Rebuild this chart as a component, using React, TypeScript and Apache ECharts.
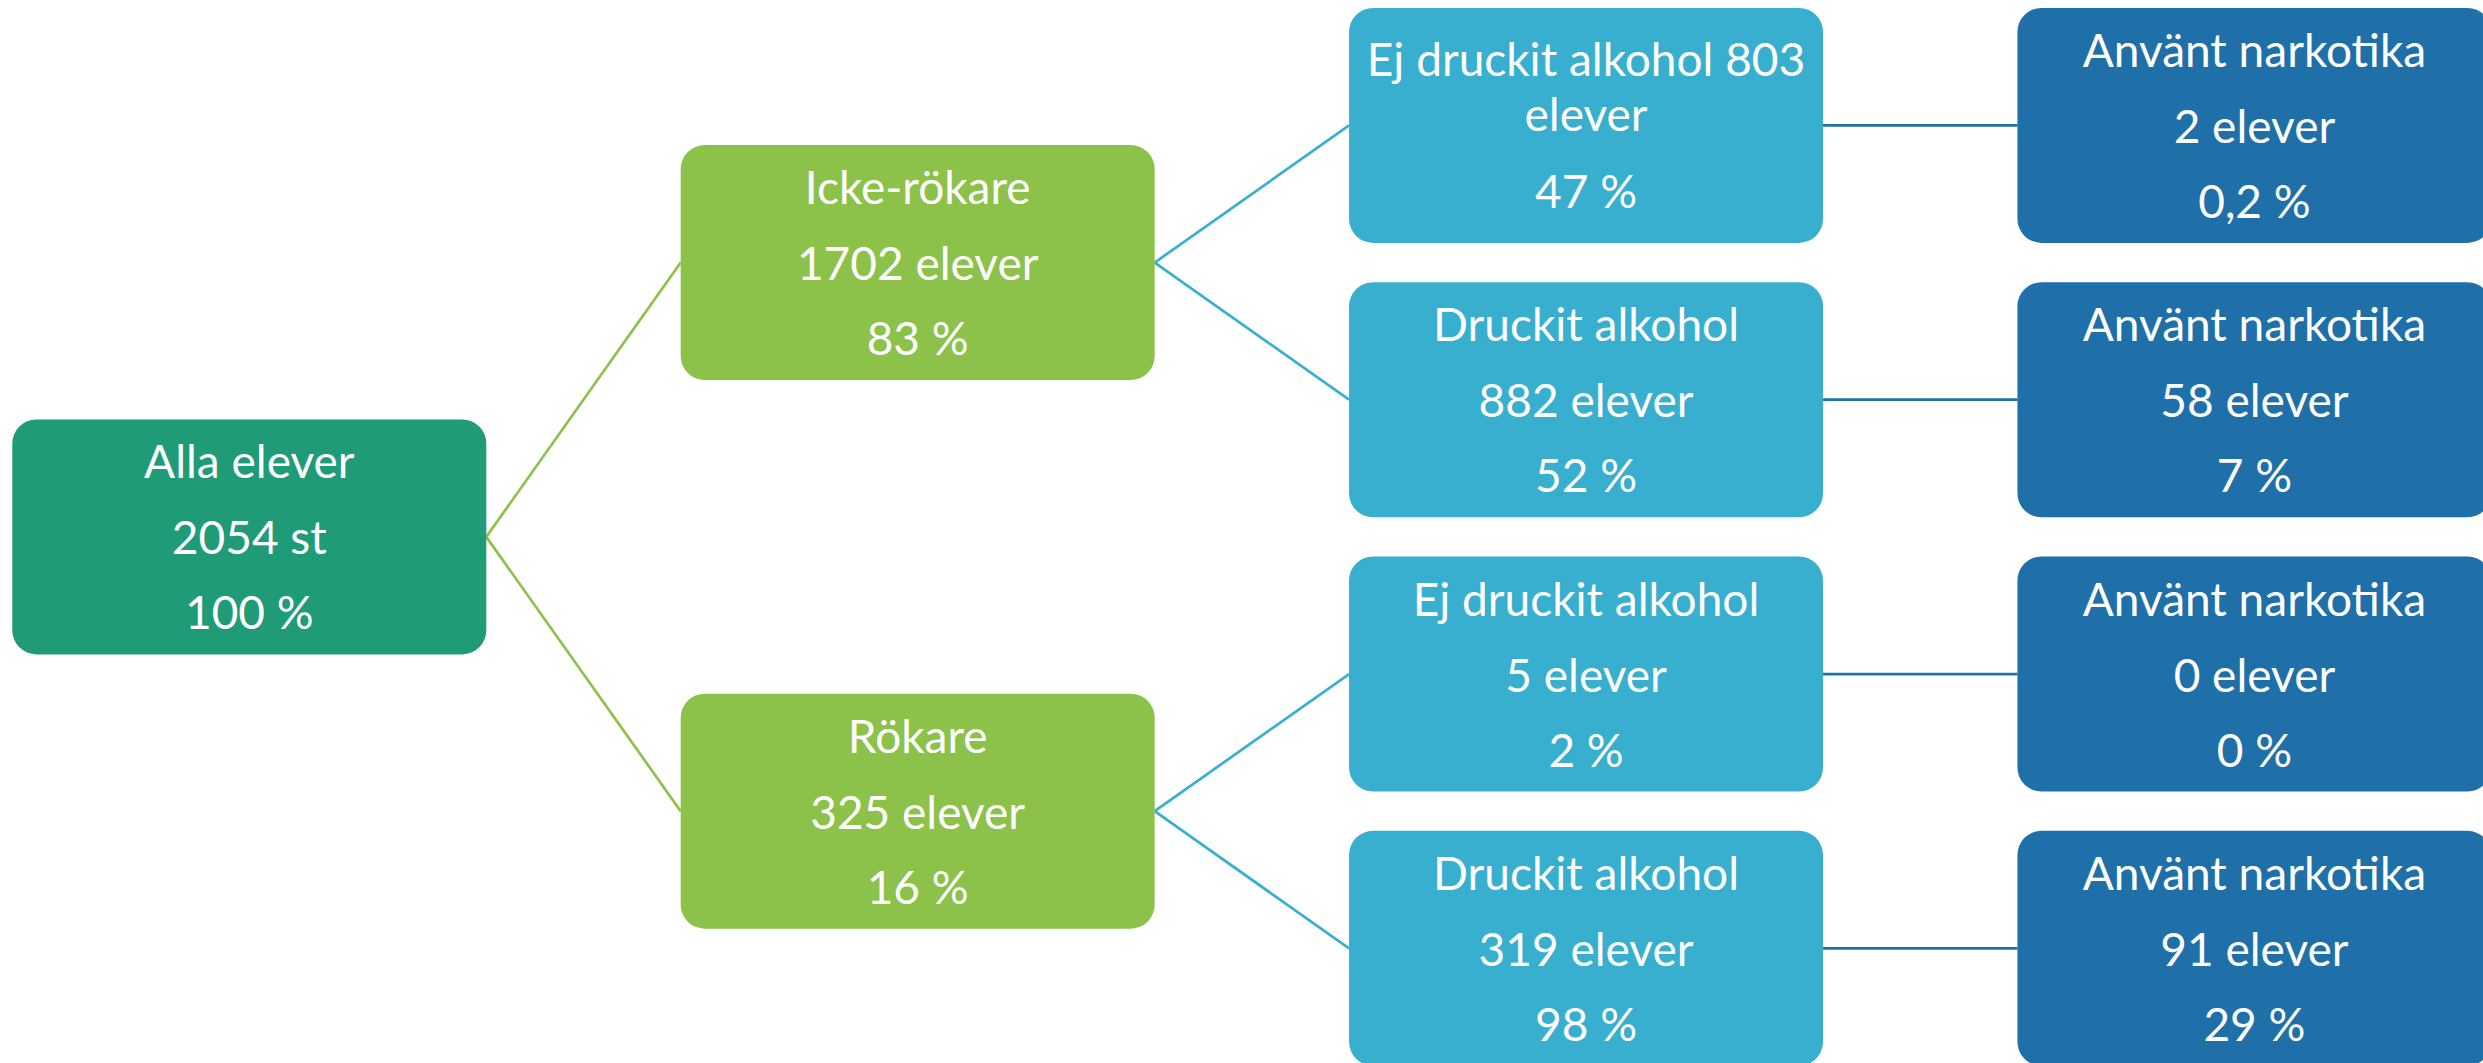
import React, { useEffect, useRef } from "react";
import * as echarts from "echarts";

// ---- Data ----
const nodeNames = [
  "Alla elever",
  "Icke-rökare",
  "Rökare",
  "Ej druckit alkohol",
  "Druckit alkohol",
  "Ej druckit alkohol",
  "Druckit alkohol",
  "Använt narkotika",
  "Använt narkotika",
  "Använt narkotika",
  "Använt narkotika",
];
const nodeParents = [-1, 0, 0, 1, 1, 2, 2, 3, 4, 5, 6];
const nodeCounts = [2054, 1702, 325, 803, 882, 5, 319, 2, 58, 0, 91];
const nodeUnits = ["st", "elever", "elever", "elever", "elever", "elever", "elever", "elever", "elever", "elever", "elever"];
const nodePercents = ["100", "83", "16", "47", "52", "2", "98", "0,2", "7", "0", "29"];
// node whose name and count share one (wrapped) paragraph in the original
const joinedNameCountNodes = [3];

// ---- Styles ----
const LEVEL_COLORS = ["#1f9b78", "#8cc24a", "#38afcf", "#1f70a9"];
const EDGE_COLORS = ["#1f9b78", "#8dc14a", "#37afd0", "#2070a9"];
const BOX_W = 474;
const BOX_H = 235;
const BOX_R = 24;
const FONT = "Lato";
const FONT_SIZE = 46;
const NORMAL_OFFSETS = [-76, 0, 75];
const JOINED_OFFSETS = [-67, -12, 65];

// ---- Derived tree layout (levels and leaf slots) ----
const levels: number[] = nodeParents.map(() => 0);
nodeParents.forEach((p, i) => {
  let l = 0;
  let q = p;
  while (q >= 0) {
    l++;
    q = nodeParents[q];
  }
  levels[i] = l;
});
const childrenOf: number[][] = nodeNames.map(() => []);
nodeParents.forEach((p, i) => {
  if (p >= 0) childrenOf[p].push(i);
});
const slots: number[] = nodeNames.map(() => 0);
let leafCounter = 0;
function assign(i: number): number {
  const ch = childrenOf[i];
  if (ch.length === 0) {
    slots[i] = leafCounter++;
  } else {
    const s = ch.map(assign);
    slots[i] = s.reduce((a, b) => a + b, 0) / s.length;
  }
  return slots[i];
}
assign(0);

const nodeData = nodeNames.map((_, i) => [levels[i], slots[i], i]);
const edgeData = nodeParents
  .map((p, i) => (p >= 0 ? [levels[p], slots[p], levels[i], slots[i], i] : null))
  .filter((d) => d !== null) as number[][];

export default function App() {
  const ref = useRef<HTMLDivElement>(null);
  useEffect(() => {
    if (!ref.current) return;
    const chart = echarts.init(ref.current, undefined, { renderer: "svg" });
    chart.setOption({
      animation: false,
      backgroundColor: "#ffffff",
      grid: { left: 0, right: 0, top: 0, bottom: 0, containLabel: false },
      xAxis: { type: "value", min: -0.373, max: 3.342, show: false },
      yAxis: { type: "value", min: -0.4572, max: 3.418, inverse: true, show: false },
      series: [
        {
          type: "custom",
          clip: false,
          silent: true,
          data: edgeData,
          encode: { x: [0, 2], y: [1, 3] },
          renderItem: (params: any, api: any) => {
            const p = api.coord([api.value(0), api.value(1)]);
            const c = api.coord([api.value(2), api.value(3)]);
            const lvl = api.value(2);
            return {
              type: "line",
              shape: { x1: p[0] + BOX_W / 2, y1: p[1], x2: c[0] - BOX_W / 2, y2: c[1] },
              style: { stroke: EDGE_COLORS[lvl], lineWidth: 2.7, fill: null },
            };
          },
        },
        {
          type: "custom",
          clip: false,
          silent: true,
          data: nodeData,
          encode: { x: 0, y: 1 },
          renderItem: (params: any, api: any) => {
            const lvl = api.value(0);
            const i = api.value(2);
            const [cx, cy] = api.coord([lvl, api.value(1)]);
            const joined = joinedNameCountNodes.indexOf(i) >= 0;
            const lines = joined
              ? [`${nodeNames[i]} ${nodeCounts[i]}`, nodeUnits[i], `${nodePercents[i]} %`]
              : [nodeNames[i], `${nodeCounts[i]} ${nodeUnits[i]}`, `${nodePercents[i]} %`];
            const offs = joined ? JOINED_OFFSETS : NORMAL_OFFSETS;
            const children: any[] = [
              {
                type: "rect",
                shape: { x: cx - BOX_W / 2, y: cy - BOX_H / 2, width: BOX_W, height: BOX_H, r: BOX_R },
                style: { fill: LEVEL_COLORS[lvl] },
              },
            ];
            lines.forEach((t, k) => {
              children.push({
                type: "text",
                x: cx,
                y: cy + offs[k],
                style: {
                  text: t,
                  fill: "#ffffff",
                  fontSize: FONT_SIZE,
                  fontFamily: FONT,
                  align: "center",
                  verticalAlign: "middle",
                },
              });
            });
            return { type: "group", children };
          },
        },
      ],
    });
    return () => chart.dispose();
  }, []);
  return (
    <div
      ref={ref}
      style={{ position: "absolute", left: 0, top: 0, width: 2483, height: 1063, background: "#fff" }}
    />
  );
}
